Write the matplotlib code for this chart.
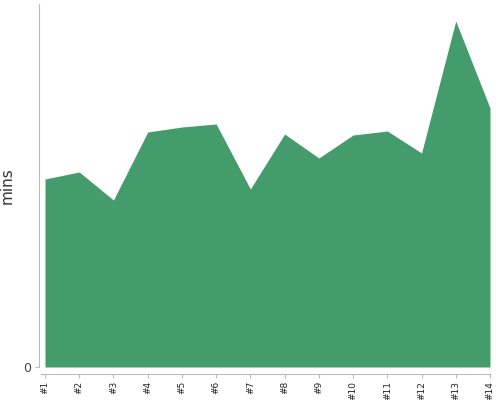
import matplotlib

matplotlib.use("Agg")
import matplotlib.pyplot as plt

labels = ["#1", "#2", "#3", "#4", "#5", "#6", "#7",
          "#8", "#9", "#10", "#11", "#12", "#13", "#14"]
mins = [18.8, 19.5, 16.7, 23.5, 24.0, 24.3, 17.8,
        23.3, 20.9, 23.2, 23.6, 21.4, 34.6, 25.9]

GREEN = "#449c6c"
GRAY = "#bbbbbb"

fig = plt.figure(figsize=(5, 4), dpi=100)
ax = fig.add_axes([0.09, 0.0825, 0.89, 0.9075])

# spines first: set_position resets the ticks
for side in ("top", "right"):
    ax.spines[side].set_visible(False)
ax.spines["left"].set_position(("outward", 4))
ax.spines["bottom"].set_position(("outward", 5))
ax.spines["left"].set_color(GRAY)
ax.spines["bottom"].set_color(GRAY)

x = list(range(len(labels)))
ax.fill_between(x, 0, mins, color=GREEN, linewidth=0)
ax.set_xlim(0, len(labels) - 1)
ax.set_ylim(0, 36.3)
ax.spines["bottom"].set_bounds(-0.12, len(labels) - 1)

ax.set_xticks(x)
ax.set_xticklabels(labels, rotation=90, fontsize=6.5, color="#222222")
ax.set_yticks([0])
ax.set_yticklabels(["0"], fontsize=9, color="#444444")
ax.tick_params(axis="x", length=3, color=GRAY, pad=2)
ax.tick_params(axis="y", length=3, color=GRAY, pad=3)

ax.set_ylabel("mins", fontsize=11, color="#333333")
ax.yaxis.set_label_coords(-0.068, 0.5)

fig.savefig("out.png", dpi=100)
